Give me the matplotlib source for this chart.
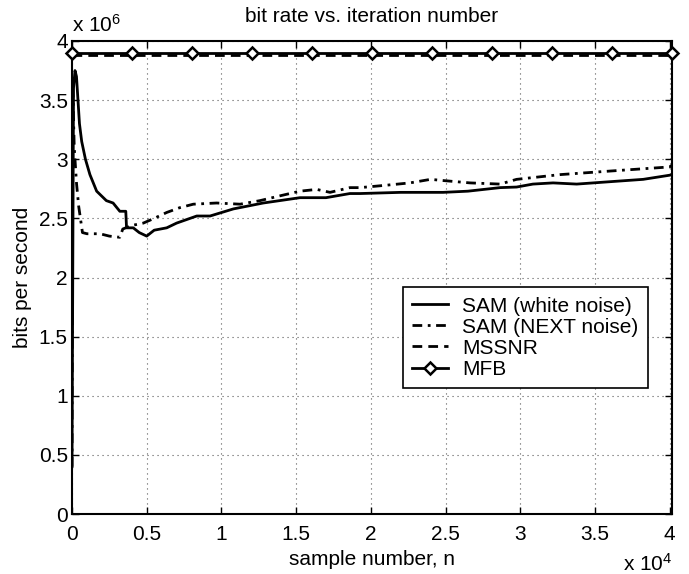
import matplotlib
matplotlib.use("Agg")
import matplotlib.pyplot as plt
from matplotlib.ticker import FixedLocator, FuncFormatter

plt.rcParams['font.family'] = ['Liberation Sans', 'DejaVu Sans']
plt.rcParams['mathtext.fontset'] = 'custom'
plt.rcParams['mathtext.rm'] = 'Liberation Sans'
plt.rcParams['mathtext.it'] = 'Liberation Sans'

# ---- data ----
title = "bit rate vs. iteration number"
xlabel = "sample number, n"
ylabel = "bits per second"

white_x = [0, 100, 200, 300, 500, 650, 900, 1200, 1650, 2300, 2750, 3200, 3600, 3650,
           4100, 4500, 5000, 5500, 6340, 7000, 8350, 9240, 10800, 12800, 15260, 17000,
           18600, 19280, 22000, 24840, 26500, 28650, 29760, 30850, 32200, 33780, 36000,
           38230, 40000, 40160]
white_y = [0.40e6, 3.60e6, 3.75e6, 3.70e6, 3.30e6, 3.15e6, 3.00e6, 2.87e6, 2.73e6, 2.65e6,
           2.63e6, 2.56e6, 2.56e6, 2.42e6, 2.42e6, 2.38e6, 2.35e6, 2.40e6, 2.42e6, 2.46e6,
           2.52e6, 2.52e6, 2.58e6, 2.63e6, 2.675e6, 2.675e6, 2.71e6, 2.71e6, 2.72e6, 2.72e6,
           2.73e6, 2.76e6, 2.765e6, 2.79e6, 2.80e6, 2.79e6, 2.81e6, 2.83e6, 2.865e6, 2.87e6]

next_x = [0, 50, 150, 300, 450, 700, 1000, 1870, 2500, 3200, 3400, 4000, 4770, 5500, 6340,
          7200, 8120, 9680, 11250, 12580, 13900, 15260, 16380, 17270, 18600, 19280, 21000,
          22620, 24000, 24840, 26640, 28650, 29760, 32660, 36000, 40000, 40160]
next_y = [0.40e6, 3.60e6, 3.10e6, 2.80e6, 2.60e6, 2.38e6, 2.37e6, 2.37e6, 2.35e6, 2.34e6,
          2.41e6, 2.44e6, 2.46e6, 2.50e6, 2.55e6, 2.59e6, 2.62e6, 2.63e6, 2.62e6, 2.65e6,
          2.69e6, 2.73e6, 2.745e6, 2.72e6, 2.76e6, 2.76e6, 2.78e6, 2.80e6, 2.83e6, 2.82e6,
          2.80e6, 2.79e6, 2.83e6, 2.87e6, 2.90e6, 2.935e6, 2.95e6]

mssnr_x = [0, 40160]
mssnr_y = [3.88e6, 3.88e6]

mfb_x = [0, 4016, 8032, 12048, 16064, 20080, 24096, 28112, 32128, 36144, 40160]
mfb_y = [3.9e6, 3.9e6, 3.9e6, 3.9e6, 3.9e6, 3.9e6, 3.9e6, 3.9e6, 3.9e6, 3.9e6, 3.9e6]

x_ticks = [0, 5000, 10000, 15000, 20000, 25000, 30000, 35000, 40000]
y_ticks = [0, 0.5e6, 1e6, 1.5e6, 2e6, 2.5e6, 3e6, 3.5e6, 4e6]

labels = ["SAM (white noise)", "SAM (NEXT noise)", "MSSNR", "MFB"]

# ---- figure ----
fig = plt.figure(figsize=(6.89, 5.74), dpi=100)
ax = fig.add_axes([72/689, 60/574, 600/689, 473/574])

lw = 2.0
ax.plot(white_x, white_y, color='black', lw=lw, linestyle='-', label=labels[0])
ax.plot(next_x, next_y, color='black', lw=lw, linestyle=(0, (3.5, 2, 1, 2)), label=labels[1])
ax.plot(mssnr_x, mssnr_y, color='black', lw=lw, linestyle=(0, (3.5, 2.2)), label=labels[2])
ax.plot(mfb_x, mfb_y, color='black', lw=lw, linestyle='-', marker='D', ms=6,
        mfc='white', mec='black', mew=1.8, label=labels[3], clip_on=False, zorder=5)

ax.set_xlim(0, 40160)
ax.set_ylim(0, 4e6)
ax.xaxis.set_major_locator(FixedLocator(x_ticks))
ax.yaxis.set_major_locator(FixedLocator(y_ticks))
ax.xaxis.set_major_formatter(FuncFormatter(lambda v, p: ('%g' % (v / 1e4))))
ax.yaxis.set_major_formatter(FuncFormatter(lambda v, p: ('%g' % (v / 1e6))))

ax.tick_params(direction='in', length=5, width=1, labelsize=15,
               top=True, right=True)
ax.tick_params(axis='x', pad=8)
ax.tick_params(axis='y', pad=3)
for s in ax.spines.values():
    s.set_linewidth(1.5)

ax.grid(True, color='0.35', linestyle=(0, (1, 3.5)), lw=0.8)

ax.set_title(title, fontsize=15, pad=14)
ax.set_xlabel(xlabel, fontsize=15, labelpad=4)
ax.set_ylabel(ylabel, fontsize=15)
ax.yaxis.set_label_coords(-0.066, 0.5)

ax.text(0.0, 1.012, r'x 10$^{6}$', transform=ax.transAxes, fontsize=15,
        ha='left', va='bottom')
ax.text(1.0, -0.12, r'x 10$^{4}$', transform=ax.transAxes, fontsize=15,
        ha='right', va='baseline')

leg = ax.legend(loc='lower right', bbox_to_anchor=(0.96, 0.266), fontsize=15,
                frameon=True, fancybox=False, framealpha=1, edgecolor='black',
                handlelength=1.7, handletextpad=0.7, borderpad=0.45,
                labelspacing=0.1, borderaxespad=0)
leg.get_frame().set_linewidth(1.2)

fig.savefig('out.png', dpi=100)
